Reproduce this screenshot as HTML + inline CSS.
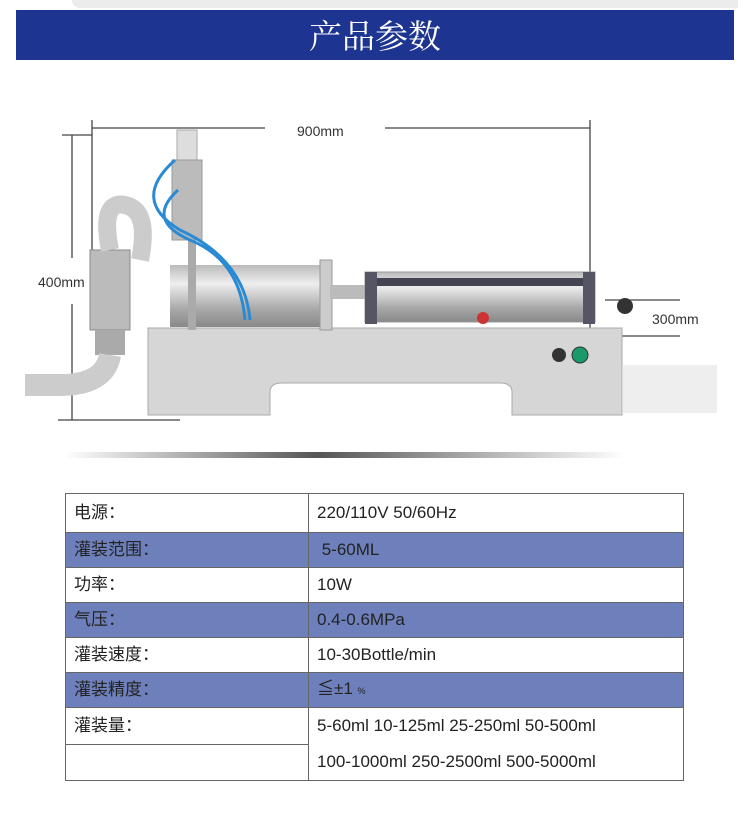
<!DOCTYPE html>
<html><head><meta charset="utf-8"><style>
body{margin:0;width:750px;height:816px;background:#fff;overflow:hidden;position:relative;font-family:"Liberation Sans","Noto Sans CJK SC",sans-serif}
.top{position:absolute;left:72px;top:0;width:666px;height:8px;background:#ececec;border-bottom-left-radius:8px}
.hdr{position:absolute;left:16px;top:10px;width:718px;height:50px;background:#1d3591;color:#fff;text-align:center;font-family:"Noto Serif CJK SC",serif;font-size:33px;line-height:50px}
table{position:absolute;left:65px;top:493px;width:619px;border-collapse:collapse;font-size:17px;color:#222}
td{border:1.5px solid #666;padding:0 0 0 8px;vertical-align:middle;line-height:20px;font-family:"Liberation Sans","Noto Sans CJK SC",sans-serif}
td.l{width:234px}
tr{height:35px}
tr.b td{background:#6e80bb}
</style></head><body>
<div class="top"></div>
<div class="hdr">产品参数</div>
<svg width="750" height="490" style="position:absolute;left:0;top:0">
<defs>
<linearGradient id="sh" x1="0" x2="1"><stop offset="0" stop-color="#fff"/><stop offset=".45" stop-color="#555"/><stop offset="1" stop-color="#fff"/></linearGradient>
<linearGradient id="cyl" x1="0" y1="0" x2="0" y2="1"><stop offset="0" stop-color="#bbb"/><stop offset=".3" stop-color="#eee"/><stop offset=".7" stop-color="#aaa"/><stop offset="1" stop-color="#888"/></linearGradient>
</defs>
<g stroke="#444" stroke-width="1.3" fill="none">
<line x1="92" y1="128" x2="265" y2="128"/><line x1="385" y1="128" x2="590" y2="128"/>
<line x1="92" y1="120" x2="92" y2="330"/><line x1="590" y1="120" x2="590" y2="330"/>
<line x1="62" y1="135" x2="92" y2="135"/><line x1="72" y1="135" x2="72" y2="258"/>
<line x1="72" y1="304" x2="72" y2="420"/><line x1="58" y1="420" x2="180" y2="420"/>
<line x1="605" y1="300" x2="680" y2="300"/><line x1="590" y1="336" x2="680" y2="336"/>
</g>
<text x="297" y="136" font-size="14" fill="#333">900mm</text>
<text x="38" y="287" font-size="14" fill="#333">400mm</text>
<text x="652" y="324" font-size="14" fill="#333">300mm</text>
<path d="M148 328 H622 V415 H512 V392 Q512 383 500 383 H282 Q270 383 270 392 V415 H148 Z" fill="#d6d6d6" stroke="#aaa"/>
<rect x="622" y="365" width="95" height="48" fill="#ddd" opacity=".5"/>
<circle cx="559" cy="355" r="7" fill="#333"/><circle cx="580" cy="355" r="8" fill="#1a9a6a" stroke="#333"/>
<rect x="170" y="265" width="160" height="62" fill="url(#cyl)"/>
<rect x="320" y="260" width="12" height="70" fill="#ccc" stroke="#999"/>
<rect x="330" y="285" width="40" height="14" fill="#bbb"/>
<rect x="365" y="272" width="230" height="50" fill="url(#cyl)" stroke="#999"/>
<rect x="372" y="278" width="220" height="8" fill="#445"/>
<rect x="365" y="272" width="12" height="52" fill="#556"/><rect x="583" y="272" width="12" height="52" fill="#556"/>
<circle cx="483" cy="318" r="6" fill="#c33"/>
<circle cx="625" cy="306" r="8" fill="#333"/>
<rect x="177" y="130" width="20" height="60" fill="#ddd" stroke="#aaa"/>
<rect x="172" y="160" width="30" height="80" fill="#bbb" stroke="#999"/>
<rect x="188" y="240" width="8" height="90" fill="#aaa"/>
<rect x="90" y="250" width="40" height="80" fill="#bbb" stroke="#888"/>
<rect x="95" y="330" width="30" height="25" fill="#aaa"/>
<path d="M110 355 Q105 385 60 385 H25" stroke="#ccc" stroke-width="22" fill="none"/>
<path d="M110 250 Q100 200 125 205 Q150 210 140 260" stroke="#ccc" stroke-width="18" fill="none"/>
<g stroke="#2a8ad4" stroke-width="3" fill="none">
<path d="M175 160 Q130 200 180 230 Q245 260 250 320"/>
<path d="M178 190 Q145 220 190 240 Q240 260 245 320"/>
</g>
<rect x="65" y="452" width="560" height="6" fill="url(#sh)"/>
</svg>
<table>
<tr style="height:39px"><td class="l">电源：</td><td>220/110V 50/60Hz</td></tr>
<tr class="b"><td class="l">灌装范围：</td><td>&nbsp;5-60ML</td></tr>
<tr><td class="l">功率：</td><td>10W</td></tr>
<tr class="b"><td class="l">气压：</td><td>0.4-0.6MPa</td></tr>
<tr><td class="l">灌装速度：</td><td>10-30Bottle/min</td></tr>
<tr class="b"><td class="l">灌装精度：</td><td>≦±1 <span style="font-size:9px">%</span></td></tr>
<tr><td class="l">灌装量：</td><td rowspan="2" style="line-height:36px">5-60ml 10-125ml 25-250ml 50-500ml<br>100-1000ml 250-2500ml 500-5000ml</td></tr>
<tr><td class="l"></td></tr>
</table>
</body></html>
